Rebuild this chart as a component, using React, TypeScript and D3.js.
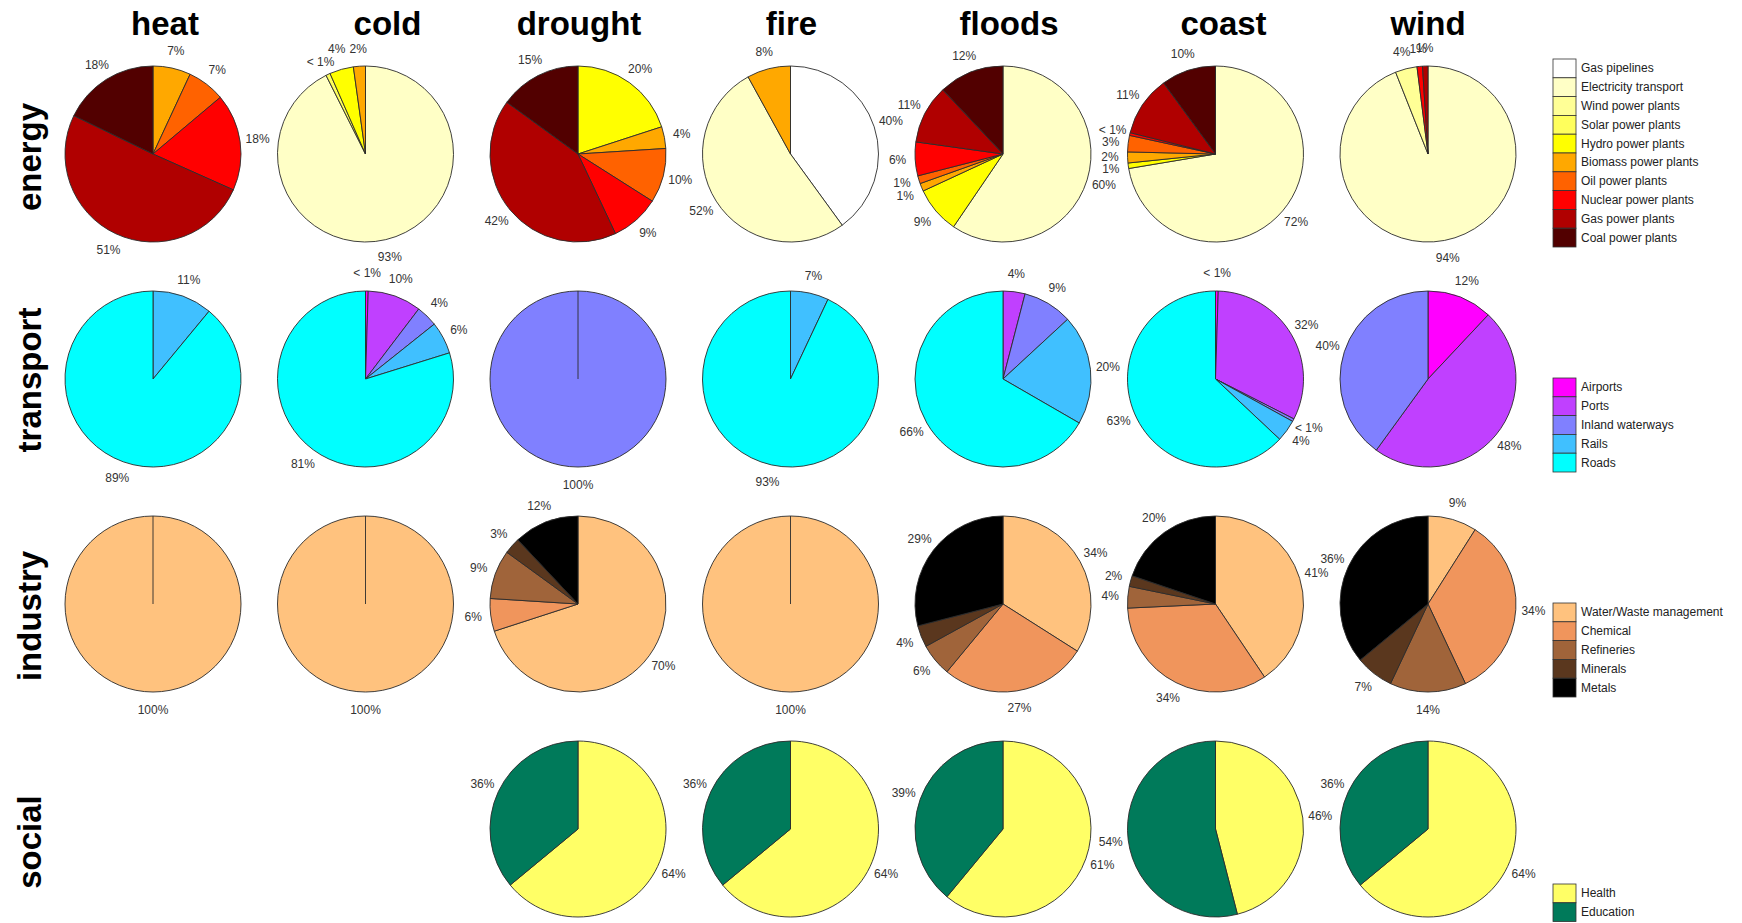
import React from "react";
import * as d3 from "d3";

// ---------- data ----------
const hazards = ["heat", "cold", "drought", "fire", "floods", "coast", "wind"];
const sectorNames = ["energy", "transport", "industry", "social"];

const energyCategories = [
  "Gas pipelines", "Electricity transport", "Wind power plants", "Solar power plants",
  "Hydro power plants", "Biomass power plants", "Oil power plants",
  "Nuclear power plants", "Gas power plants", "Coal power plants",
];
const energyHeat = [0, 0, 0, 0, 0, 7, 7, 18, 51, 18];
const energyCold = [0, 92.6, 0, 0.8, 4.4, 2.2, 0, 0, 0, 0];
const energyDrought = [0, 0, 0, 0, 20, 4, 10, 9, 42, 15];
const energyFire = [40, 52, 0, 0, 0, 8, 0, 0, 0, 0];
const energyFloods = [0, 59.5, 0, 0, 8.6, 1.45, 1.45, 6.2, 10.8, 12];
const energyCoast = [0, 72, 0, 0, 1, 2, 3, 0.5, 11, 10];
const energyWind = [0, 94, 4, 0, 0, 0, 0, 1, 1, 0];

const transportCategories = ["Airports", "Ports", "Inland waterways", "Rails", "Roads"];
const transportHeat = [0, 0, 0, 11, 89];
const transportCold = [0.5, 10, 4, 6, 81];
const transportDrought = [0, 0, 100, 0, 0];
const transportFire = [0, 0, 0, 7, 93];
const transportFloods = [0, 4, 9, 20, 66];
const transportCoast = [0.5, 32, 0.5, 4, 63];
const transportWind = [12, 48, 40, 0, 0];

const industryCategories = ["Water/Waste management", "Chemical", "Refineries", "Minerals", "Metals"];
const industryHeat = [100, 0, 0, 0, 0];
const industryCold = [100, 0, 0, 0, 0];
const industryDrought = [70, 6, 9, 3, 12];
const industryFire = [100, 0, 0, 0, 0];
const industryFloods = [34, 27, 6, 4, 29];
const industryCoast = [41, 34, 4, 2, 20];
const industryWind = [9, 34, 14, 7, 36];

const socialCategories = ["Health", "Education"];
const socialHeat: number[] | null = null;
const socialCold: number[] | null = null;
const socialDrought = [64, 36];
const socialFire = [64, 36];
const socialFloods = [61, 39];
const socialCoast = [46, 54];
const socialWind = [64, 36];

// ---------- styles ----------
const energyColors = ["#ffffff", "#ffffc6", "#ffff96", "#ffff5c", "#ffff00", "#ffa800", "#ff6200", "#ff0000", "#b00000", "#520000"];
const transportColors = ["#ff00ff", "#c040ff", "#8080ff", "#40c0ff", "#00ffff"];
const industryColors = ["#ffc27e", "#f0955c", "#a0643a", "#5a371e", "#000000"];
const socialColors = ["#ffff66", "#007a5a"];

const sectors = [
  { name: sectorNames[0], cats: energyCategories, colors: energyColors,
    values: [energyHeat, energyCold, energyDrought, energyFire, energyFloods, energyCoast, energyWind] },
  { name: sectorNames[1], cats: transportCategories, colors: transportColors,
    values: [transportHeat, transportCold, transportDrought, transportFire, transportFloods, transportCoast, transportWind] },
  { name: sectorNames[2], cats: industryCategories, colors: industryColors,
    values: [industryHeat, industryCold, industryDrought, industryFire, industryFloods, industryCoast, industryWind] },
  { name: sectorNames[3], cats: socialCategories, colors: socialColors,
    values: [socialHeat, socialCold, socialDrought, socialFire, socialFloods, socialCoast, socialWind] },
];

// ---------- layout ----------
const W = 1742, H = 923;
const R = 88;
const colX = d3.scalePoint<string>().domain(hazards).range([153, 1428]);
const rowY = d3.scalePoint<string>().domain(sectorNames).range([154, 829]);
const titleOffsets = [12, 22, 1, 1, 6, 8, 0];
const rowLabelOffsets = [3, 1, 12, 13];
const legendTops = [59, 378, 603, 884];
const legendX = 1553, swW = 23, swH = 18.8;
const FONT = "'Liberation Sans', Arial, Helvetica, sans-serif";

const fmt = (v: number) => (v < 1 ? "< 1%" : `${Math.round(v)}%`);
const textW = (s: string) => s.length * 6.6;

function Pie({ cx, cy, vals, colors }: { cx: number; cy: number; vals: number[]; colors: string[] }) {
  const items = vals.map((v, i) => ({ v, i })).filter((d) => d.v > 0);
  const pie = d3.pie<{ v: number; i: number }>().value((d) => d.v).sort(null).startAngle(0).endAngle(2 * Math.PI);
  const arcs = pie(items);
  const arcGen = d3.arc<d3.PieArcDatum<{ v: number; i: number }>>().innerRadius(0).outerRadius(R);
  const labels = arcs.map((a) => {
    const m = (a.startAngle + a.endAngle) / 2;
    const s = fmt(a.data.v);
    return { s, x: 1.2 * R * Math.sin(m), y: -1.2 * R * Math.cos(m), w: textW(s) };
  });
  // separate labels that are stacked closely on top of one another
  for (let i = 0; i < labels.length; i++) {
    for (let j = i + 1; j < labels.length; j++) {
      const a = labels[i], b = labels[j];
      const hOverlap = Math.abs(a.x - b.x) < (a.w + b.w) / 2;
      const dy = Math.abs(a.y - b.y);
      if (hOverlap && dy > 4 && dy < 12.5) {
        const push = (12.5 - dy) / 2;
        if (a.y < b.y) { a.y -= push; b.y += push; } else { a.y += push; b.y -= push; }
      }
    }
  }
  return (
    <g transform={`translate(${cx},${cy})`}>
      {arcs.map((a, k) => (
        <path key={k} d={arcGen(a) || ""} fill={colors[a.data.i]} stroke="#2b2b2b" strokeWidth={0.9} strokeLinejoin="round" />
      ))}
      {arcs.length === 1 && <line x1={0} y1={0} x2={0} y2={-R} stroke="#2b2b2b" strokeWidth={0.9} />}
      {labels.map((l, k) => (
        <text key={"t" + k} x={l.x} y={l.y} textAnchor="middle"
          dominantBaseline="central" fontSize={12} fontFamily={FONT} fill="#333">
          {l.s}
        </text>
      ))}
    </g>
  );
}

export default function App() {
  return (
    <svg width={W} height={H} style={{ position: "absolute", left: 0, top: 0, background: "#fff" }}>
      <rect width={W} height={H} fill="#fff" />
      {hazards.map((h, i) => (
        <text key={h} x={(colX(h) as number) + titleOffsets[i]} y={35} textAnchor="middle" fontSize={33}
          fontWeight="bold" fontFamily={FONT} fill="#000">{h}</text>
      ))}
      {sectors.map((s, si) => {
        const cy = rowY(s.name) as number;
        return (
          <g key={s.name}>
            <text transform={`translate(41,${cy + rowLabelOffsets[si]}) rotate(-90)`} textAnchor="middle" fontSize={33}
              fontWeight="bold" fontFamily={FONT} fill="#000">{s.name}</text>
            {hazards.map((h, hi) => {
              const vals = s.values[hi];
              if (!vals) return null;
              return <Pie key={h} cx={colX(h) as number} cy={cy} vals={vals} colors={s.colors} />;
            })}
            {s.cats.map((c, ci) => (
              <g key={c}>
                <rect x={legendX} y={legendTops[si] + ci * swH} width={swW} height={swH} fill={s.colors[ci]}
                  stroke="#333" strokeWidth={0.8} />
                <text x={legendX + swW + 5} y={legendTops[si] + ci * swH + swH / 2} dominantBaseline="central"
                  fontSize={12} fontFamily={FONT} fill="#222">{c}</text>
              </g>
            ))}
          </g>
        );
      })}
    </svg>
  );
}
